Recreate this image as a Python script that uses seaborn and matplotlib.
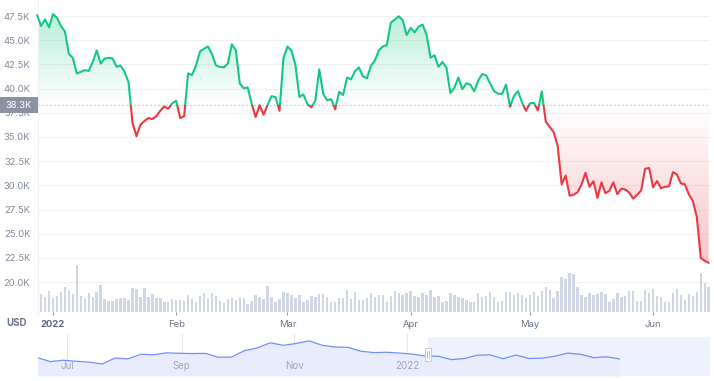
import numpy as np
import pandas as pd
import matplotlib
matplotlib.use("Agg")
import matplotlib.pyplot as plt
import matplotlib.dates as mdates
import matplotlib.colors as mcolors
import matplotlib.transforms as mtrans
from matplotlib.patches import Rectangle
from matplotlib.path import Path
from matplotlib.lines import Line2D
import seaborn as sns

# ---------------- data ----------------
price_start = "2021-12-28"
price_k = [
    47.59, 46.47, 47.15, 46.32,
    47.69, 47.32, 46.46, 45.90, 43.57, 43.16, 41.56, 41.73, 41.91, 41.82,
    42.74, 43.95, 42.59, 43.10, 43.18, 43.11, 42.25, 42.38, 41.74, 40.68,
    36.46, 35.08, 36.27, 36.65, 36.95, 36.85, 37.14, 37.71, 38.15, 37.92, 38.48,
    38.74, 36.95, 37.15, 41.57, 41.41, 42.41, 43.84, 44.12, 44.34, 43.57,
    42.41, 42.24, 42.20, 42.59, 44.58, 43.96, 40.54, 40.03, 40.12, 38.43,
    37.07, 38.29, 37.30, 38.33, 39.22, 39.11, 37.71, 43.19,
    44.35, 43.92, 42.45, 39.14, 39.40, 38.42, 38.06, 38.74, 41.98, 39.44,
    38.79, 38.90, 37.85, 39.67, 39.34, 41.14, 40.95, 41.80, 42.19, 41.25,
    41.08, 42.36, 42.89, 43.96, 44.35, 44.50, 46.82, 47.13, 47.47, 47.07, 45.54,
    46.28, 45.81, 46.41, 46.62, 45.56, 43.20, 43.45, 42.25, 42.75, 42.16,
    39.53, 40.08, 41.15, 39.94, 40.55, 40.41, 39.72, 40.83, 41.50, 41.37,
    40.53, 39.74, 39.47, 39.45, 40.43, 38.12, 39.24, 39.74, 38.60, 37.71,
    38.47, 38.53, 37.75, 39.70, 36.58, 36.04, 35.50, 34.06, 30.10, 31.02,
    28.94, 29.03, 29.29, 30.10, 31.30, 29.86, 30.43, 28.72, 30.31, 29.20,
    29.43, 30.32, 29.10, 29.66, 29.57, 29.26, 28.63, 29.03, 29.47, 31.72, 31.79,
    29.80, 30.45, 29.70, 29.86, 29.90, 31.37, 31.13, 30.20, 30.11, 29.08,
    28.40, 26.76, 22.49, 22.20, 22.00,
]

volume_start = "2021-12-29"
volume = [
    54, 45, 63, 42, 48, 59, 74, 64, 54, 142, 48, 38, 56, 45, 59, 80, 40, 34, 34, 38, 41,
    41, 36, 73, 68, 45, 71, 44, 54, 42, 41, 31, 29, 38, 36, 36, 34, 50, 38, 31, 49, 58,
    41, 56, 48, 32, 28, 38, 41, 35, 45, 41, 25, 34, 50, 46, 38, 78, 45, 31, 40, 60, 56,
    50, 42, 50, 31, 35, 49, 45, 55, 54, 45, 29, 31, 42, 42, 67, 38, 60, 35, 35, 42, 56,
    44, 52, 52, 30, 48, 62, 58, 50, 58, 64, 49, 44, 56, 52, 67, 44, 47, 31, 32, 58, 52,
    46, 41, 37, 31, 31, 58, 46, 48, 60, 46, 30, 32, 60, 60, 52, 58, 52, 41, 50, 59, 48,
    64, 74, 66, 42, 63, 105, 100, 118, 114, 74, 52, 46, 56, 52, 54, 59, 54, 29, 38, 56,
    45, 48, 62, 62, 34, 32, 67, 58, 70, 48, 45, 31, 31, 56, 70, 52, 37, 54, 49, 60, 116,
    87, 75,
]

nav_start = "2021-06-15"   # weekly points of the navigator line
nav_price_k = [
    40.2, 33.7, 35.9, 34.2, 32.9, 29.8, 39.5, 38.2, 45.6, 44.8, 48.0, 47.2, 46.8, 47.1,
    40.7, 41.0, 51.5, 56.0, 64.3, 60.3, 63.2, 67.6, 60.4, 57.5, 57.0, 50.6, 48.4, 48.9,
    47.6, 45.9, 42.7, 42.4, 36.9, 38.7, 44.1, 44.6, 38.3, 44.4, 38.7, 39.3, 42.4, 47.5,
    45.6, 40.1, 41.5, 38.1,
]

baseline_k = 38.3
y_ticks_k = [20.0, 22.5, 25.0, 27.5, 30.0, 32.5, 35.0, 37.5, 40.0, 42.5, 45.0, 47.5]
month_ticks = ["2022-01-01", "2022-02-01", "2022-03-01", "2022-04-01", "2022-05-01", "2022-06-01"]
month_labels = ["2022", "Feb", "Mar", "Apr", "May", "Jun"]
nav_ticks = ["2021-07-01", "2021-09-01", "2021-11-01", "2022-01-01"]
nav_labels = ["Jul", "Sep", "Nov", "2022"]

# ---------------- tables ----------------
price_df = pd.DataFrame({
    "date": pd.date_range(price_start, periods=len(price_k), freq="D"),
    "price": np.array(price_k) * 1000,
})
price_df["x"] = mdates.date2num(price_df["date"])
vol_df = pd.DataFrame({
    "date": pd.date_range(volume_start, periods=len(volume), freq="D"),
    "vol": volume,
})
vol_df["x"] = mdates.date2num(vol_df["date"])
nav_df = pd.DataFrame({
    "date": pd.date_range(nav_start, periods=len(nav_price_k), freq="7D"),
    "price": np.array(nav_price_k) * 1000,
})
nav_df["x"] = mdates.date2num(nav_df["date"])

base = baseline_k * 1000
GREEN = "#16c784"
RED = "#ea3943"

# ---------------- style / figure ----------------
sns.set_theme(style="white")
plt.rcParams["font.family"] = ["Inter", "DejaVu Sans"]

W, H = 714, 381
fig = plt.figure(figsize=(W / 100, H / 100), dpi=100)
fig.patch.set_facecolor("white")


def frac(x0, y0, x1, y1):
    return [x0 / W, 1 - y1 / H, (x1 - x0) / W, (y1 - y0) / H]


d0 = mdates.date2num(pd.Timestamp("2022-01-01"))
main_xlim = (d0 - 15 / 3.974, d0 + 657 / 3.974)
nav_xlim = (d0 - 369 / 1.848, d0 + 303 / 1.848)

ax = fig.add_axes(frac(38, 0, 710, 315))
axv = fig.add_axes(frac(38, 262, 710, 312))
axn = fig.add_axes(frac(38, 334, 710, 376))
for a in (ax, axv, axn):
    a.set_facecolor("none")
    for s in a.spines.values():
        s.set_visible(False)

# ---------------- main price chart ----------------
x = price_df["x"].to_numpy()
y = price_df["price"].to_numpy()


def gradient_fill(above, color, a_near, a_far, y_far):
    pc = ax.fill_between(x, y, base, where=(y >= base) if above else (y <= base),
                         interpolate=True, facecolor="none", edgecolor="none")
    path = Path.make_compound_path(*pc.get_paths())
    img = np.zeros((256, 1, 4))
    img[:, 0, :3] = mcolors.to_rgb(color)
    if above:
        img[:, 0, 3] = np.linspace(a_near, a_far, 256)
        extent = (x.min(), x.max(), base, y_far)
    else:
        img[:, 0, 3] = np.linspace(a_far, a_near, 256)
        extent = (x.min(), x.max(), y_far, base)
    im = ax.imshow(img, extent=extent, origin="lower", aspect="auto",
                   interpolation="bilinear", zorder=1)
    im.set_clip_path(path, transform=ax.transData)


gradient_fill(True, GREEN, 0.0, 0.30, y.max())
gradient_fill(False, RED, 0.0, 0.30, y.min())

sns.lineplot(x=x, y=y, ax=ax, color=GREEN, lw=1.5, zorder=3)
ax.lines[-1].set_clip_path(Rectangle((x.min() - 10, base), 400, 1e6, transform=ax.transData))
sns.lineplot(x=x, y=y, ax=ax, color=RED, lw=1.5, zorder=3)
ax.lines[-1].set_clip_path(Rectangle((x.min() - 10, base - 1e6), 400, 1e6, transform=ax.transData))

ax.axhline(base, color="#b3bac7", lw=0.9, ls=(0, (1, 2.2)), zorder=2)

ax.set_xlim(*main_xlim)
ax.set_ylim(16611, 49153)
ax.set_yticks([v * 1000 for v in y_ticks_k])
ax.set_yticklabels([f"{v:.1f}K" for v in y_ticks_k])
ax.set_xticks([])
ax.tick_params(axis="y", length=0, pad=5.5, labelsize=6.8, labelcolor="#808a9d")
ax.yaxis.grid(True, color="#eff2f5", lw=0.8)
ax.set_axisbelow(True)
ax.spines["left"].set_visible(True)
ax.spines["left"].set_color("#eff2f5")
ax.spines["left"].set_linewidth(0.8)
ax.set_xlabel("")
ax.set_ylabel("")

# ---------------- volume ----------------
axv.bar(vol_df["x"], vol_df["vol"], width=0.62, color="#cfd6e4", linewidth=0)
axv.set_xlim(*main_xlim)
axv.set_ylim(0, 150)
axv.set_yticks([])
axv.set_xticks(mdates.date2num(pd.to_datetime(month_ticks)))
axv.set_xticklabels(month_labels)
axv.tick_params(axis="x", length=2.5, width=0.8, color="#8f99ab", pad=3,
                labelsize=6.8, labelcolor="#6b7588", bottom=True)
lbl = axv.get_xticklabels()[0]
lbl.set_fontweight("bold")
lbl.set_color("#58667e")

fig.text(17 / W, 1 - 323.5 / H, "USD", ha="center", va="center", fontsize=7,
         fontweight="bold", color="#6b7588")

# baseline price tag
fig.patches.append(Rectangle((0, 1 - 113 / H), 38 / W, 16 / H, transform=fig.transFigure,
                             facecolor="#8a93a4", edgecolor="none", zorder=10))
fig.text(19 / W, 1 - 105 / H, f"{baseline_k:.1f}K", ha="center", va="center",
         fontsize=6.8, color="white", zorder=11)

# ---------------- navigator ----------------
nav_lo, nav_hi = 10200, 78700
sel_x = d0 + 21 / 1.848
axn.axvspan(sel_x, nav_xlim[1], ymin=0.0, ymax=0.92, color="#eef1fe", zorder=0.5, lw=0)
axn.fill_between(nav_df["x"], nav_df["price"], nav_lo, color="#e8ecfc", lw=0, zorder=1)
sns.lineplot(x=nav_df["x"].to_numpy(), y=nav_df["price"].to_numpy(), ax=axn,
             color="#7190f5", lw=0.9, zorder=3)
blend = mtrans.blended_transform_factory(axn.transData, axn.transAxes)
for d, t in zip(mdates.date2num(pd.to_datetime(nav_ticks)), nav_labels):
    axn.axvline(d, color="#e3e6ee", lw=0.8, zorder=0.8)
    axn.text(d, 0.24, t, transform=blend, ha="center", va="center", fontsize=7,
             color="#a0a7b8", zorder=4)
axn.set_xlim(*nav_xlim)
axn.set_ylim(nav_lo, nav_hi)
axn.set_xticks([])
axn.set_yticks([])
axn.set_xlabel("")
axn.set_ylabel("")

# selection handle
fig.patches.append(Rectangle((425 / W, 1 - 361 / H), 6 / W, 13 / H, transform=fig.transFigure,
                             facecolor="white", edgecolor="#c3c9d6", lw=0.7, zorder=12))
for hx in (427, 429):
    fig.add_artist(Line2D([hx / W, hx / W], [1 - 358 / H, 1 - 351 / H], color="#b0b7c6",
                          lw=0.6, zorder=13))

fig.savefig("out.png", dpi=100)
